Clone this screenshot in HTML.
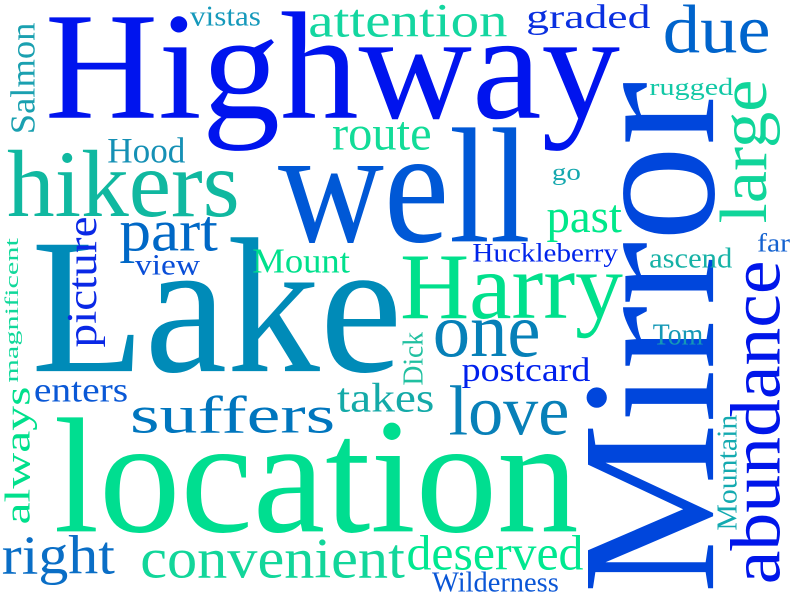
<!DOCTYPE html>
<html>
<head>
<meta charset="utf-8">
<style>
html,body{margin:0;padding:0;background:#fff;}
#wrap{width:800px;height:600px;position:relative;overflow:hidden;background:#fff;}
svg text{font-family:"Liberation Serif",serif;font-size:100px;}
</style>
</head>
<body>
<div id="wrap">
<svg id="cloud" width="800" height="600" viewBox="0 0 800 600" xmlns="http://www.w3.org/2000/svg"></svg>
</div>
<script>
// words and their ink bounding boxes [x0,y0,x1,y1], colours, rotation flag (1 = reads bottom-to-top)
const words = ["Highway","well","Lake","location","Mirror","abundance","large","Harry","hikers","attention","graded","due","vistas","Salmon","rugged","route","Hood","go","past","part","picture","view","Mount","magnificent","one","Huckleberry","ascend","far","Tom","Dick","postcard","enters","suffers","takes","love","always","Mountain","right","convenient","deserved","Wilderness"];
const boxes = [
 [48,12,620,150],[278,128,528,243],[35,238,396,373],[57,418,577,533],[587,82,715,590],[730,263,780,582],[720,82,780,222],[402,257,623,338],[7,150,237,217],[310,5,507,37],[528,5,650,35],[665,5,768,53],[190,7,260,26],[10,23,35,132],[650,78,733,100],[333,122,430,150],[108,138,185,163],[553,167,580,185],[547,205,622,242],[120,217,218,263],[68,218,105,347],[135,255,200,275],[253,250,350,273],[5,238,22,382],[435,320,538,357],[473,243,618,267],[650,248,732,268],[758,233,790,252],[653,325,703,345],[403,332,423,385],[462,358,590,388],[35,382,127,402],[133,395,333,433],[337,383,433,412],[450,385,567,435],[5,388,37,523],[718,415,737,530],[3,535,115,585],[142,540,405,578],[408,535,583,570],[432,572,558,592]
];
const colors = ["#0014ee","#0058d6","#008bb8","#00de90","#0046dc","#0016ea","#10d59a","#00e08c","#10b8a0","#14d6a0","#0a30e0","#0064cc","#1599bb","#1aa0b0","#12c8a6","#12dc98","#1590b5","#15a8ae","#00e88a","#0068c6","#0a28e6","#0a4ed8","#00e08c","#10d89a","#0680b8","#0024ea","#16b2a6","#1462d0","#1598b6","#20c0a0","#0020ec","#0a58d6","#0076be","#14aaa8","#0880b8","#00e08c","#14aab0","#0a6ec6","#12d69a","#00e890","#0a56d6"];
const rotated = [0,0,0,0,1,1,1,0,0,0,0,0,0,1,0,0,0,0,0,0,1,0,0,1,0,0,0,0,0,1,0,0,0,0,0,1,1,0,0,0,0];

const svg = document.getElementById('cloud');
const ctx = document.createElement('canvas').getContext('2d');
ctx.font = '100px "Liberation Serif", serif';
const NS = 'http://www.w3.org/2000/svg';

function place(i){
  const t = words[i];
  const b = boxes[i];
  const m = ctx.measureText(t);
  const abl = m.actualBoundingBoxLeft, abr = m.actualBoundingBoxRight;
  const asc = m.actualBoundingBoxAscent, desc = m.actualBoundingBoxDescent;
  const inkW = abl + abr, inkH = asc + desc;
  const el = document.createElementNS(NS,'text');
  
  
  el.setAttribute('x','0');
  el.setAttribute('y','0');
  el.setAttribute('fill', colors[i]);
  el.textContent = t;
  let tr;
  if(!rotated[i]){
    const sx = (b[2]-b[0])/inkW, sy = (b[3]-b[1])/inkH;
    const ox = b[0] + abl*sx, oy = b[1] + asc*sy;
    tr = `translate(${ox},${oy}) scale(${sx},${sy})`;
  } else {
    const sx = (b[3]-b[1])/inkW, sy = (b[2]-b[0])/inkH;
    const ox = b[0] + asc*sy, oy = b[3] - abl*sx;
    tr = `translate(${ox},${oy}) rotate(-90) scale(${sx},${sy})`;
  }
  el.setAttribute('transform', tr);
  svg.appendChild(el);
}
for(let i=0;i<words.length;i++) place(i);
</script>
</body>
</html>
